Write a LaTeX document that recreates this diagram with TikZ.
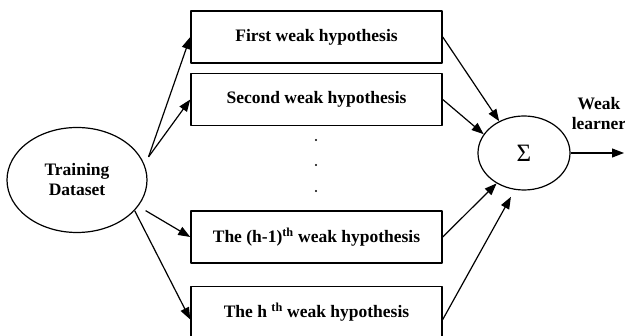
\documentclass[tikz,border=0pt]{standalone}
\usepackage{fontspec}
\setmainfont{Liberation Serif}
\usetikzlibrary{arrows.meta, shapes.geometric}

\tikzset{
    hyp/.style={draw, line width=1.5pt, minimum width=251pt, minimum height=52pt,
        font=\fontsize{17.5}{20}\selectfont\bfseries},
    feed/.style={-{Triangle[length=12pt, width=9pt]}, line width=1.2pt},
}

\begin{document}
\begin{tikzpicture}[x=1pt, y=-1pt, line join=round]
        \useasboundingbox (0,0) rectangle (625,336);
        \clip (0,0) rectangle (625,336);

        % input and output
        \node[ellipse, draw, line width=1.2pt, minimum width=140pt, minimum height=105pt,
            align=center, font=\fontsize{17.5}{20}\selectfont\bfseries] (train) at (77,180) {Training\\Dataset};
        \node[ellipse, draw, line width=1.2pt, minimum width=92pt, minimum height=74pt,
            font=\fontsize{25}{28}\selectfont] (sig) at (524,153) {Σ};
        \node[align=center, font=\fontsize{17.5}{20}\selectfont\bfseries] (lbl) at (599,114) {Weak\\learner};
        \coordinate (out) at (624,153);

        % weak hypotheses
        \node[hyp] (box1) at (316.5,37) {First weak hypothesis};
        \node[hyp] (box2) at (316.5,99.5) {Second weak hypothesis};
        \node[hyp] (box3) at (316.5,237) {The (h-1)\textsuperscript{th} weak hypothesis};
        \node[hyp] (box4) at (316.5,312.5) {The h \textsuperscript{th} weak hypothesis};

        \foreach \y in {140, 165, 191} {
            \fill (316,\y) circle (1.1pt);
        }

        % arrows
        \draw[feed] ([xshift=8pt]train.20) -- (box1.west);
        \draw[feed] ([xshift=8pt]train.20) -- (box2.west);
        \draw[feed] ([xshift=11pt]train.-28) -- (box3.west);
        \draw[feed] (train.-28) -- ([yshift=-7pt]box4.west);

        \draw[feed] (box1.east) -- (sig.128);
        \draw[feed] (box2.east) -- (sig.155);
        \draw[feed] (box3.east) -- (sig.228);
        \draw[feed, shorten >=8pt] ([yshift=-7pt]box4.east) -- (sig.256);

        \draw[feed] (sig.east) -- (out);
    \end{tikzpicture}
\end{document}
